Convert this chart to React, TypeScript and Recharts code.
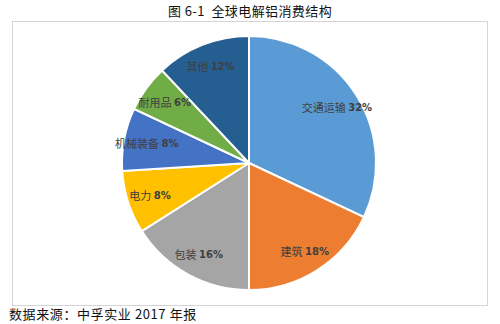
import React from "react";
import { PieChart, Pie, Cell } from "recharts";

const categories = ["交通运输", "建筑", "包装", "电力", "机械装备", "耐用品", "其他"];
const shares = [32, 18, 16, 8, 8, 6, 12];
const sliceColors = ["#5b9bd5", "#ed7d31", "#a5a5a5", "#ffc000", "#4472c4", "#70ad47", "#255e91"];

const pieData = categories.map((name, i) => ({ name, value: shares[i] }));

const RAD = Math.PI / 180;

const renderLabel = (props: any) => {
  const { cx, cy, midAngle, outerRadius, name, value } = props;
  const r = outerRadius * 0.82;
  const x = cx + r * Math.cos(-midAngle * RAD);
  const y = cy + r * Math.sin(-midAngle * RAD);
  return (
    <text
      x={x}
      y={y}
      textAnchor="middle"
      dominantBaseline="central"
      fill="#404040"
      fontSize={11}
      fontFamily="'Noto Sans CJK SC', sans-serif"
    >
      {name} <tspan fontWeight="bold" fontFamily="'DejaVu Sans', sans-serif" fontSize={10}>{value}%</tspan>
    </text>
  );
};

const App: React.FC = () => {
  return (
    <div
      style={{
        position: "absolute",
        left: 0,
        top: 0,
        width: 500,
        height: 324,
        background: "#fff",
        fontFamily: "'Noto Sans CJK SC', sans-serif",
        overflow: "hidden",
      }}
    >
      <div
        style={{
          position: "absolute",
          left: 0,
          width: 500,
          top: 2,
          textAlign: "center",
          fontSize: 13,
          lineHeight: "18px",
          color: "#111",
          letterSpacing: 0.4,
        }}
      >
        图 6-1&nbsp;&nbsp;全球电解铝消费结构
      </div>
      <div
        style={{
          position: "absolute",
          left: 12,
          top: 21,
          width: 474,
          height: 283,
          border: "1px solid #d4d4d4",
        }}
      />
      <div style={{ position: "absolute", left: 0, top: 0 }}>
        <PieChart width={500} height={324} margin={{ top: 0, right: 0, bottom: 0, left: 0 }}>
          <Pie
            data={pieData}
            dataKey="value"
            nameKey="name"
            cx={249}
            cy={163}
            outerRadius={127}
            startAngle={90}
            endAngle={-270}
            stroke="#ffffff"
            strokeWidth={2}
            label={renderLabel}
            labelLine={false}
            isAnimationActive={false}
          >
            {pieData.map((d, i) => (
              <Cell key={d.name} fill={sliceColors[i]} />
            ))}
          </Pie>
        </PieChart>
      </div>
      <div
        style={{
          position: "absolute",
          left: 9,
          top: 305,
          fontSize: 13,
          lineHeight: "18px",
          color: "#111",
          letterSpacing: 0.6,
        }}
      >
        数据来源：中孚实业 2017 年报
      </div>
    </div>
  );
};

export default App;
